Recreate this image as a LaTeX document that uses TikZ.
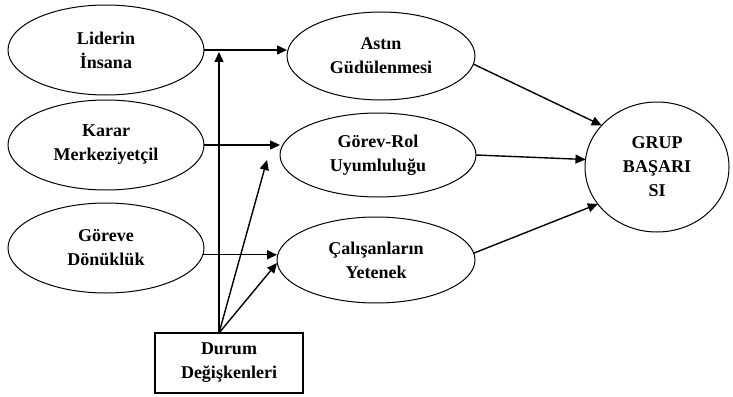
\documentclass[tikz,border=0pt]{standalone}
\usepackage{fontspec}
\setmainfont{Liberation Serif}
\usetikzlibrary{shapes.geometric,arrows.meta}
\begin{document}
\begin{tikzpicture}[x=1pt,y=-1pt,
  lbl/.style={font=\bfseries\fontsize{18}{24}\selectfont, align=center},
  oval/.style={ellipse, draw, line width=1pt, inner sep=0pt, outer sep=0pt, lbl},
  boxnode/.style={rectangle, draw, line width=1.2pt, outer sep=0pt, lbl},
  arr/.style={line width=1.4pt, -{Triangle[length=10pt,width=9pt]}}]
\useasboundingbox (0,0) rectangle (733,396);

% leadership styles
\node[oval, minimum width=196pt, minimum height=90pt] (lid) at (106,50) {Liderin\\İnsana};
\node[oval, minimum width=196pt, minimum height=90pt] (kar) at (106,145) {Karar\\Merkeziyetçil};
\node[oval, minimum width=196pt, minimum height=90pt] (gdn) at (106,248) {Göreve\\Dönüklük};

% intermediate factors
\node[oval, minimum width=188pt, minimum height=88pt] (ast) at (381,56) {Astın\\Güdülenmesi};
\node[oval, minimum width=196pt, minimum height=84pt] (gor) at (378,155) {Görev-Rol\\Uyumluluğu};
\node[oval, minimum width=198pt, minimum height=86pt] (cal) at (376,260) {Çalışanların\\Yetenek};

% outcome
\node[oval, minimum width=144pt, minimum height=130pt] (grup) at (657,167) {GRUP\\BAŞARI\\SI};

% situational variables
\node[boxnode, minimum width=148pt, minimum height=60pt] (dur) at (229,363) {Durum\\Değişkenleri};

% free ends of the moderator arrows
\coordinate (up) at (219,52);
\coordinate (d1) at (267,160);
\coordinate (d2) at (277,263);

% style -> factor
\draw[arr] (lid.east) -- (lid.east -| ast.west);
\draw[arr] (kar.east) -- (kar.east -| gor.west);
\draw[arr] (gdn.-4) -- (gdn.-4 -| cal.west);

% situational variables
\draw[arr] (dur.north -| up) -- (up);
\draw[arr] (dur.north -| up) -- (d1);
\draw[arr] (dur.north -| up) -- (d2);

% factor -> group success
\draw[arr] (ast.-5) -- (grup.143);
\draw[arr] (gor.east) -- (grup.174);
\draw[arr] (cal.4) -- (grup.212);
\end{tikzpicture}
\end{document}
